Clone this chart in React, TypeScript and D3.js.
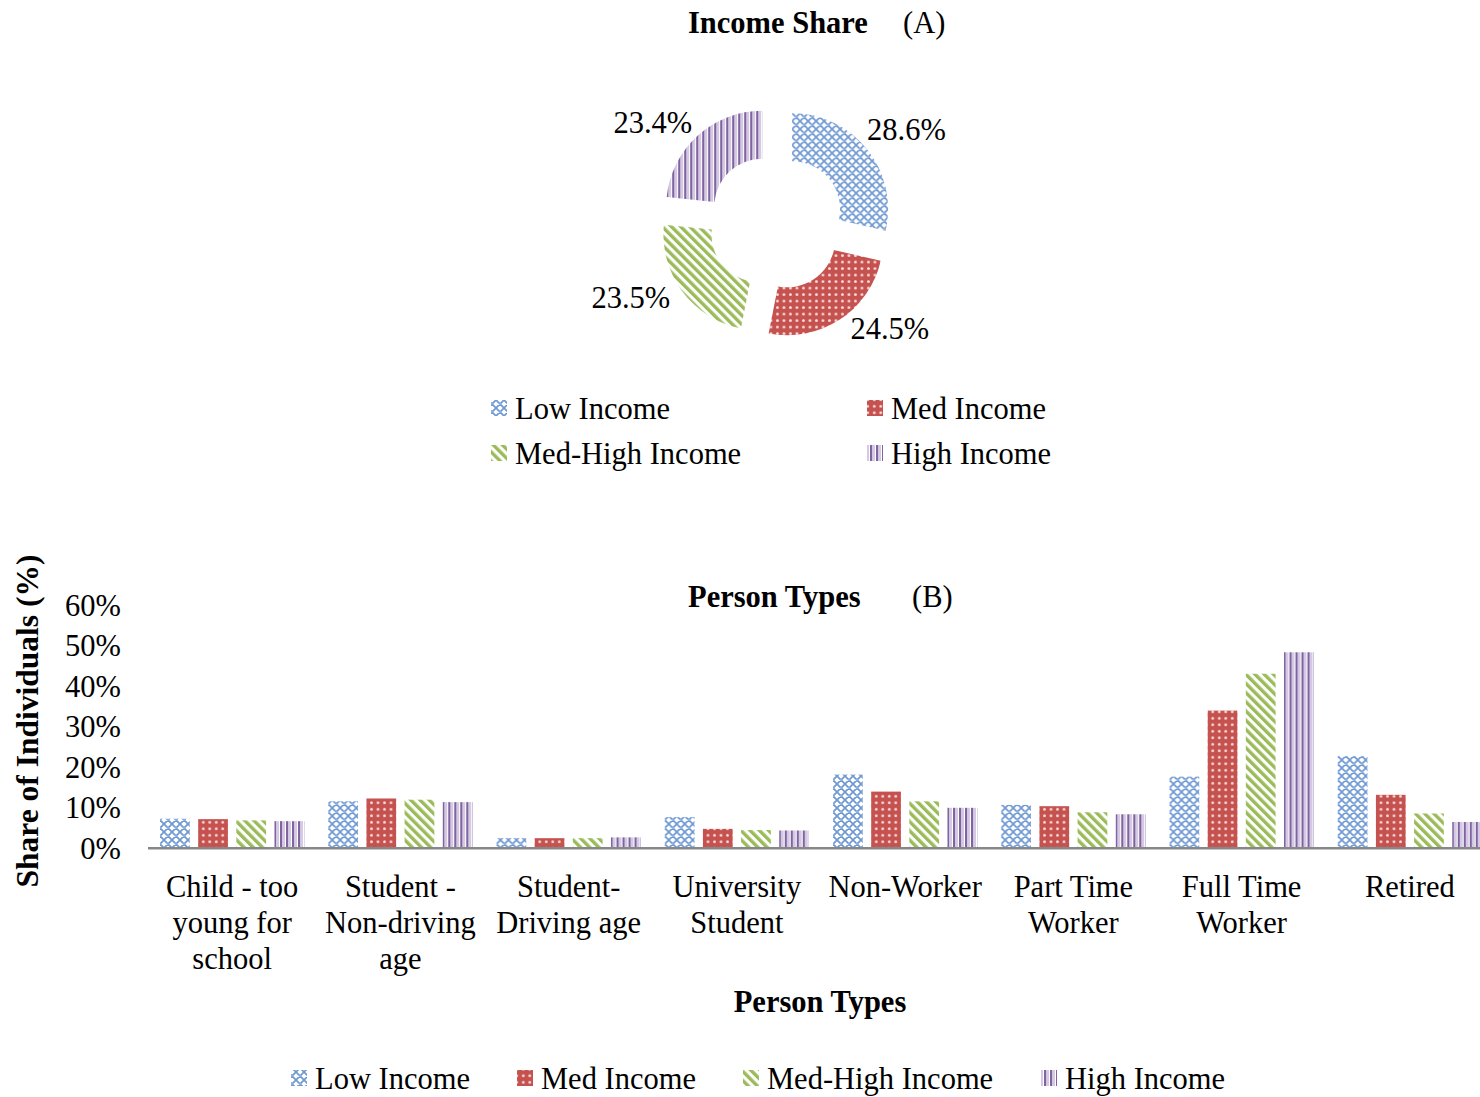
import React from "react";
import * as d3 from "d3";

const incomeGroups = ["Low Income", "Med Income", "Med-High Income", "High Income"];
const incomeShare = [28.6, 24.5, 23.5, 23.4];

const personTypes = [
  ["Child - too", "young for", "school"],
  ["Student -", "Non-driving", "age"],
  ["Student-", "Driving age"],
  ["University", "Student"],
  ["Non-Worker"],
  ["Part Time", "Worker"],
  ["Full Time", "Worker"],
  ["Retired"],
];
const lowIncome = [7.3, 11.6, 2.5, 7.7, 18.2, 10.7, 17.7, 22.8];
const medIncome = [7.2, 12.3, 2.5, 4.8, 14.0, 10.4, 34.0, 13.2];
const medHighIncome = [6.9, 12.0, 2.5, 4.5, 11.6, 8.9, 43.1, 8.6];
const highIncome = [6.7, 11.4, 2.7, 4.4, 10.0, 8.4, 48.4, 6.5];
const yTicks = [0, 10, 20, 30, 40, 50, 60];

const seriesValues = [lowIncome, medIncome, medHighIncome, highIncome];
const patternIds = ["pLow", "pMed", "pMedHigh", "pHigh"];
const labelAngleShift = [-7, -2, 1, 2];

const FONT = "'Liberation Serif', 'Times New Roman', serif";
const FS = 30.5;

function Patterns() {
  return (
    <defs>
      <pattern id="pLow" width={8} height={8} patternUnits="userSpaceOnUse">
        <rect width={8} height={8} fill="#ffffff" />
        <path d="M0,0L8,8M8,0L0,8M-1,7L1,9M7,-1L9,1" stroke="#6e98d2" strokeWidth={1.7} />
        <circle cx={4} cy={4} r={0.9} fill="#9bb8e2" />
      </pattern>
      <pattern id="pMed" width={6.5} height={6.5} patternUnits="userSpaceOnUse">
        <rect width={6.5} height={6.5} fill="#c6524f" />
        <circle cx={3.25} cy={3.25} r={1.4} fill="#ffffff" opacity={0.8} />
      </pattern>
      <pattern id="pMedHigh" width={6.5} height={6.5} patternUnits="userSpaceOnUse" patternTransform="rotate(-45)">
        <rect width={6.5} height={6.5} fill="#ffffff" />
        <rect width={3.4} height={6.5} fill="#9bbb59" />
      </pattern>
      <pattern id="pHigh" width={6} height={6} patternUnits="userSpaceOnUse">
        <rect width={6} height={6} fill="#ffffff" />
        <rect x={0} width={2.4} height={6} fill="#8064a2" />
        <rect x={2.4} width={2.6} height={6} fill="#d5c9e4" />
      </pattern>
    </defs>
  );
}

function Donut() {
  const cx = 776;
  const cy = 222;
  const R = 96;
  const r = 48;
  const explode = 20.6;
  const pie = d3.pie<number>().sort(null).value((d) => d);
  const arcs = pie(incomeShare);
  const arc = d3.arc<d3.PieArcDatum<number>>().innerRadius(r).outerRadius(R);
  const labelR = 130;
  return (
    <g>
      {arcs.map((a, i) => {
        const mid = (a.startAngle + a.endAngle) / 2;
        const la = mid + (labelAngleShift[i] * Math.PI) / 180;
        const dx = Math.sin(mid) * explode;
        const dy = -Math.cos(mid) * explode;
        const lx = cx + Math.sin(la) * labelR;
        const ly = cy - Math.cos(la) * labelR;
        const right = Math.sin(mid) > 0;
        return (
          <g key={i}>
            <path d={arc(a) || ""} transform={`translate(${cx + dx},${cy + dy})`} fill={`url(#${patternIds[i]})`} />
            <text
              x={lx}
              y={ly}
              dy="0.35em"
              textAnchor={right ? "start" : "end"}
              fontFamily={FONT}
              fontSize={FS}
              fill="#000"
            >
              {incomeShare[i].toFixed(1)}%
            </text>
          </g>
        );
      })}
    </g>
  );
}

function TopLegend() {
  const cols = [491, 867];
  const rows = [408, 453];
  return (
    <g>
      {incomeGroups.map((g, i) => {
        const x = cols[i % 2];
        const y = rows[Math.floor(i / 2)];
        return (
          <g key={g}>
            <rect x={x} y={y - 8} width={16} height={16} fill={`url(#${patternIds[i]})`} />
            <text x={x + 24} y={y} dy="0.35em" fontFamily={FONT} fontSize={FS} fill="#000">
              {g}
            </text>
          </g>
        );
      })}
    </g>
  );
}

function BottomLegend() {
  const xs = [291, 517, 743, 1041];
  const y = 1078;
  return (
    <g>
      {incomeGroups.map((g, i) => (
        <g key={g}>
          <rect x={xs[i]} y={y - 8} width={16} height={16} fill={`url(#${patternIds[i]})`} />
          <text x={xs[i] + 24} y={y} dy="0.35em" fontFamily={FONT} fontSize={FS} fill="#000">
            {g}
          </text>
        </g>
      ))}
    </g>
  );
}

function BarChart() {
  const x0 = d3
    .scaleBand<number>()
    .domain(personTypes.map((_, i) => i))
    .range([148, 1494])
    .paddingInner(0)
    .paddingOuter(0);
  const x1 = d3
    .scaleBand<number>()
    .domain([0, 1, 2, 3])
    .range([12, x0.bandwidth() - 12])
    .paddingInner(0.22);
  const y = d3.scaleLinear().domain([0, 60]).range([848.3, 605.3]);
  return (
    <g>
      {personTypes.map((lines, ci) => (
        <g key={ci} transform={`translate(${x0(ci)},0)`}>
          {seriesValues.map((vals, si) => (
            <rect
              key={si}
              x={x1(si)}
              y={y(vals[ci])}
              width={x1.bandwidth()}
              height={y(0) - y(vals[ci])}
              fill={`url(#${patternIds[si]})`}
            />
          ))}
          {lines.map((ln, li) => (
            <text
              key={li}
              x={x0.bandwidth() / 2}
              y={886 + li * 36}
              dy="0.35em"
              textAnchor="middle"
              fontFamily={FONT}
              fontSize={FS}
              fill="#000"
            >
              {ln}
            </text>
          ))}
        </g>
      ))}
      <line x1={148} x2={1480} y1={y(0)} y2={y(0)} stroke="#878787" strokeWidth={2.5} />
      {yTicks.map((t) => (
        <text
          key={t}
          x={121}
          y={y(t)}
          dy="0.35em"
          textAnchor="end"
          fontFamily={FONT}
          fontSize={FS}
          fill="#000"
        >
          {t}%
        </text>
      ))}
      <text
        transform={`translate(27,721) rotate(-90)`}
        textAnchor="middle"
        dy="0.35em"
        fontFamily={FONT}
        fontSize={31.5}
        fontWeight="bold"
        fill="#000"
      >
        Share of Individuals (%)
      </text>
      <text x={820} y={1001} dy="0.35em" textAnchor="middle" fontFamily={FONT} fontSize={FS} fontWeight="bold" fill="#000">
        Person Types
      </text>
    </g>
  );
}

export default function App() {
  return (
    <div style={{ position: "fixed", left: 0, top: 0 }}>
      <svg width={1480} height={1097} style={{ display: "block", background: "#fff" }}>
        <Patterns />
        <rect width={1480} height={1097} fill="#fff" />
        <text x={688} y={22} dy="0.35em" fontFamily={FONT} fontSize={FS} fill="#000">
          <tspan fontWeight="bold">Income Share</tspan>
          <tspan x={903}>(A)</tspan>
        </text>
        <text x={688} y={596} dy="0.35em" fontFamily={FONT} fontSize={FS} fill="#000">
          <tspan fontWeight="bold">Person Types</tspan>
          <tspan x={912}>(B)</tspan>
        </text>
        <Donut />
        <TopLegend />
        <BarChart />
        <BottomLegend />
      </svg>
    </div>
  );
}
